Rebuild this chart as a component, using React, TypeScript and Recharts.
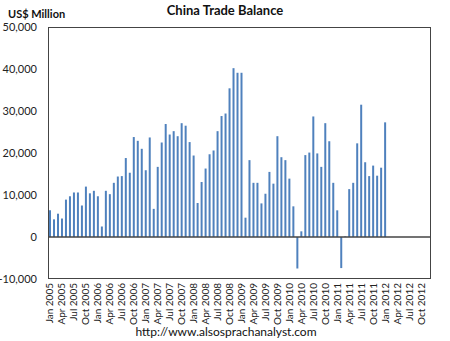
import React from "react";
import { BarChart, Bar, XAxis, YAxis, ReferenceLine } from "recharts";

const MONTHS = ["Jan", "Feb", "Mar", "Apr", "May", "Jun", "Jul", "Aug", "Sep", "Oct", "Nov", "Dec"];
const YEARS = [2005, 2006, 2007, 2008, 2009, 2010, 2011, 2012];

// monthly trade balance, US$ million
const BAL_2005 = [6350, 4200, 5550, 4400, 8900, 9700, 10600, 10600, 7500, 12000, 10400, 11000];
const BAL_2006 = [9700, 2500, 11000, 10200, 12900, 14400, 14500, 18800, 15300, 23800, 22900, 21000];
const BAL_2007 = [15900, 23700, 6700, 16700, 22500, 26900, 24400, 25200, 24000, 27100, 26500, 22600];
const BAL_2008 = [19400, 8100, 13100, 16300, 19700, 20600, 25200, 28800, 29400, 35400, 40200, 39100];
const BAL_2009 = [39100, 4600, 18300, 12900, 12900, 8000, 10300, 15500, 12700, 24000, 19000, 18300];
const BAL_2010 = [13900, 7300, -7500, 1350, 19500, 20100, 28700, 19900, 16700, 27100, 22800, 12900];
const BAL_2011 = [6350, -7400, 140, 11400, 12900, 22300, 31500, 17800, 14500, 17000, 14600, 16500];
const BAL_2012 = [27300];

const Y_TICKS = [-10000, 0, 10000, 20000, 30000, 40000, 50000];

const balances = [...BAL_2005, ...BAL_2006, ...BAL_2007, ...BAL_2008, ...BAL_2009, ...BAL_2010, ...BAL_2011, ...BAL_2012];
const months = YEARS.flatMap((y) => MONTHS.map((m) => `${m} ${y}`));
const data = months.map((month, i) => ({ month, value: i < balances.length ? balances[i] : null }));

const FONT = "Lato, 'Open Sans', sans-serif";

function MonthTick({ x, y, payload }: { x?: number; y?: number; payload?: { value: string } }) {
  return (
    <text
      x={0}
      y={0}
      transform={`translate(${x! + 3.5},${y! - 4}) rotate(-90)`}
      textAnchor="end"
      fontSize={10}
      fontFamily={FONT}
      fill="#222"
    >
      {payload?.value}
    </text>
  );
}

export default function App() {
  return (
    <div style={{ position: "absolute", left: 0, top: 0, width: 450, height: 341, background: "#fff", fontFamily: FONT }}>
      <div style={{ position: "absolute", left: 0, top: 2, width: 450, textAlign: "center", fontWeight: 700, fontSize: 13, color: "#111" }}>
        China Trade Balance
      </div>
      <div style={{ position: "absolute", left: 8, top: 7, fontWeight: 700, fontSize: 11, color: "#111" }}>US$ Million</div>
      <BarChart width={450} height={341} data={data} margin={{ top: 27, right: 19, left: 0, bottom: 0 }} barCategoryGap={1}>
        <XAxis
          dataKey="month"
          interval={2}
          tick={<MonthTick />}
          tickLine={false}
          axisLine={false}
          height={62}
        />
        <YAxis
          width={48}
          domain={[-10000, 50000]}
          ticks={Y_TICKS}
          tickFormatter={(v: number) => v.toLocaleString("en-US")}
          tick={{ fontSize: 11, fill: "#222", fontFamily: FONT }}
          tickLine={false}
          axisLine={false}
          tickMargin={5}
        />
        <ReferenceLine y={0} stroke="#444" strokeWidth={1.5} />
        <Bar dataKey="value" fill="#4F81BD" barSize={2} isAnimationActive={false} />
      </BarChart>
      <div
        style={{
          position: "absolute",
          left: 48,
          top: 27,
          width: 383,
          height: 252,
          border: "1px solid #444",
          boxSizing: "border-box",
          pointerEvents: "none",
        }}
      />
      <div style={{ position: "absolute", left: 0, top: 324, width: 452, textAlign: "center", fontSize: 12, color: "#111" }}>
        http://www.alsosprachanalyst.com
      </div>
    </div>
  );
}
